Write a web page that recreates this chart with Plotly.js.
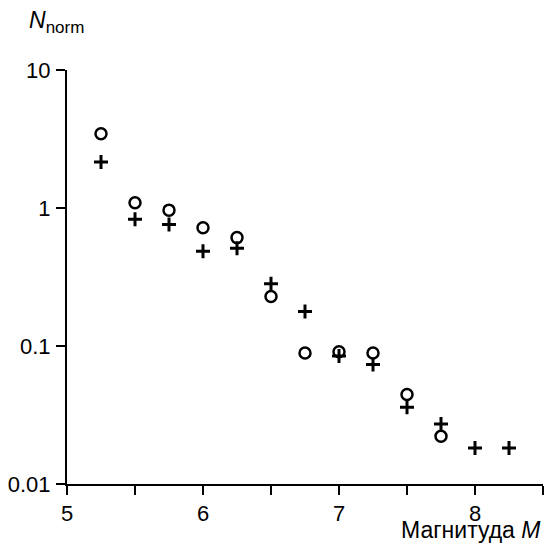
<!DOCTYPE html>
<html>
<head>
<meta charset="utf-8">
<script src="https://cdn.plot.ly/plotly-3.0.1.min.js"></script>
<style>html,body{margin:0;padding:0;background:#fff;}</style>
</head>
<body>
<div id="chart" style="width:547px;height:545px;"></div>
<script>
// Magnitude values
const magCircles = [5.25, 5.5, 5.75, 6.0, 6.25, 6.5, 6.75, 7.0, 7.25, 7.5, 7.75];
const nCircles   = [3.45, 1.09, 0.965, 0.72, 0.61, 0.228, 0.089, 0.091, 0.089, 0.0445, 0.0222];
const magPlus    = [5.25, 5.5, 5.75, 6.0, 6.25, 6.5, 6.75, 7.0, 7.25, 7.5, 7.75, 8.0, 8.25];
const nPlus      = [2.15, 0.83, 0.76, 0.485, 0.51, 0.282, 0.178, 0.0845, 0.0735, 0.036, 0.0272, 0.0182, 0.0182];
const xTickVals  = [5, 6, 7, 8];
const xTickText  = ['5', '6', '7', '8'];
const xMinorVals = [5.5, 6.5, 7.5, 8.5];
const yTickVals  = [0.01, 0.1, 1, 10];
const yTickText  = ['0.01', '0.1', '1', '10'];

const FONT = '"Liberation Sans", Arial, sans-serif';

const traces = [
  {
    x: magCircles, y: nCircles, type: 'scatter', mode: 'markers',
    marker: {symbol: 'circle-open', size: 11, color: '#000', line: {color: '#000', width: 2.5}},
    cliponaxis: false, showlegend: false
  },
  {
    x: magPlus, y: nPlus, type: 'scatter', mode: 'markers',
    marker: {symbol: 'cross-thin-open', size: 10, color: '#000', line: {color: '#000', width: 3}},
    cliponaxis: false, showlegend: false
  }
];

const layout = {
  width: 547, height: 545,
  margin: {l: 67, r: 4, t: 70, b: 61},
  paper_bgcolor: '#fff', plot_bgcolor: '#fff',
  font: {family: FONT, size: 22, color: '#000'},
  xaxis: {
    range: [5, 8.5], showgrid: false, zeroline: false,
    showline: true, linewidth: 2, linecolor: '#000',
    ticks: 'outside', ticklen: 9, tickwidth: 2, tickcolor: '#000',
    tickmode: 'array', tickvals: xTickVals, ticktext: xTickText,
    tickfont: {family: FONT, size: 22, color: '#000'},
    minor: {tickmode: 'array', tickvals: xMinorVals, ticks: 'outside', ticklen: 9, tickwidth: 2, tickcolor: '#000', showgrid: false}
  },
  yaxis: {
    type: 'log', range: [-2, 1], showgrid: false, zeroline: false,
    showline: true, linewidth: 2, linecolor: '#000',
    ticks: 'outside', ticklen: 9, tickwidth: 2, tickcolor: '#000',
    tickmode: 'array', tickvals: yTickVals, ticktext: yTickText,
    ticklabelstandoff: 1,
    tickfont: {family: FONT, size: 22, color: '#000'}
  },
  annotations: [
    {
      text: '<i>N</i><sub><span style="font-size:17px">norm</span></sub>', xref: 'paper', yref: 'paper',
      x: -0.085, y: 1.115, xanchor: 'left', yanchor: 'middle', showarrow: false,
      font: {family: FONT, size: 23, color: '#000'}
    },
    {
      text: 'Магнитуда <i>M</i>', xref: 'paper', yref: 'paper',
      x: 1.0, y: -0.11, xanchor: 'right', yanchor: 'middle', showarrow: false,
      font: {family: FONT, size: 23, color: '#000'}
    }
  ]
};

Plotly.newPlot('chart', traces, layout, {displayModeBar: false, staticPlot: true});
</script>
</body>
</html>
